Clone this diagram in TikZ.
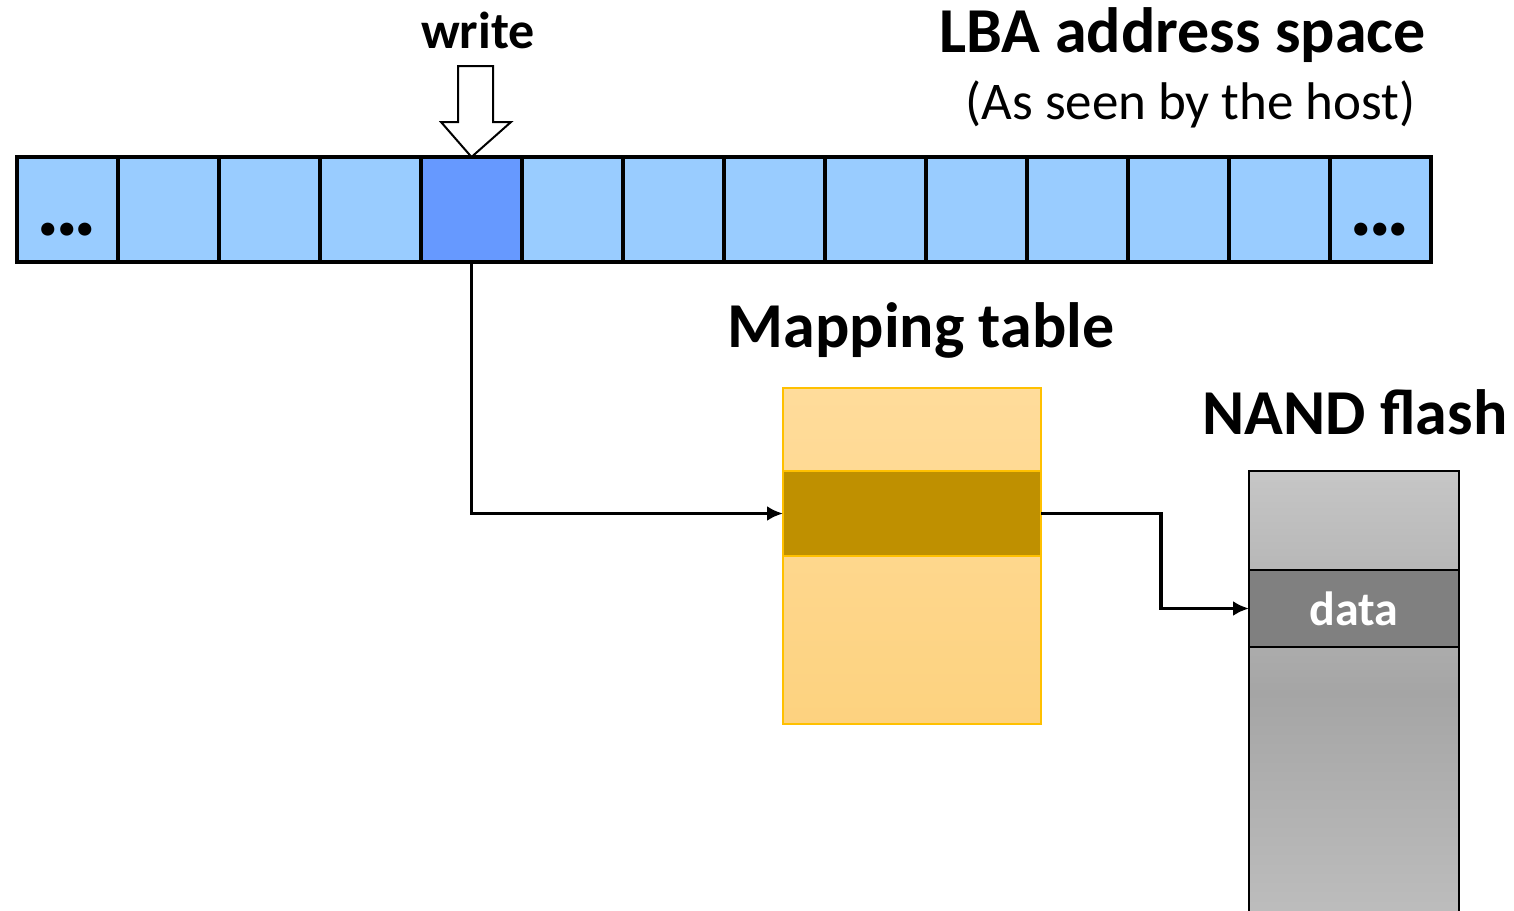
\documentclass[tikz,border=0pt]{standalone}
\usepackage{fontspec}
\setmainfont{Carlito}
\usetikzlibrary{arrows.meta,positioning}

\definecolor{lbacell}{HTML}{99CCFF}
\definecolor{lbahit}{HTML}{6699FF}
\definecolor{maptop}{HTML}{FFDC9B}
\definecolor{mapbot}{HTML}{FDD27F}
\definecolor{mapslot}{HTML}{BF9000}
\definecolor{mapedge}{HTML}{FFC000}
\definecolor{nandtop}{HTML}{C6C6C6}
\definecolor{nandmid}{HTML}{A5A5A5}
\definecolor{nandbot}{HTML}{BDBDBD}
\definecolor{nanddata}{HTML}{808080}

\begin{document}
\begin{tikzpicture}[
    x=0.5pt, y=-0.5pt,
    lbabox/.style={draw, line width=1.8pt, fill=lbacell, minimum width=50.5pt,
        minimum height=52.5pt, inner sep=0pt, outer sep=0pt},
    maptable/.style={draw=mapedge, line width=0.6pt, top color=maptop, bottom color=mapbot,
        minimum width=129pt, minimum height=168pt, inner sep=0pt, outer sep=0pt},
    mapentry/.style={draw=mapedge, line width=0.6pt, fill=mapslot,
        minimum width=129pt, minimum height=42.5pt, inner sep=0pt, outer sep=0pt},
    nandbody/.style={draw, line width=0.8pt, top color=nandtop, bottom color=nandbot, middle color=nandmid,
        minimum width=105pt, minimum height=222pt, inner sep=0pt, outer sep=0pt},
    datablock/.style={draw, line width=0.8pt, fill=nanddata, text=white, font=\bfseries\fontsize{24}{28}\selectfont,
        minimum width=105pt, minimum height=38.5pt, inner sep=0pt, outer sep=0pt},
    title/.style={font=\bfseries\fontsize{32}{38}\selectfont, inner sep=0pt},
    moredots/.style={font=\bfseries\fontsize{44}{50}\selectfont, inner sep=0pt},
    link/.style={line width=1.7pt, -{Latex[length=8pt,width=7.5pt]}}
]

\useasboundingbox (0,0) rectangle (1514,910);

% =========================================================
% LBA address space
% =========================================================

\foreach \i in {1,...,14} {
    \node[lbabox] (c\i) at ({17+101*(\i-1)+50.5},209.5) {};
}
\node[lbabox, fill=lbahit] at (c5) {};

\node[moredots] (dl) at (67,230) {.\kern-2.5pt.\kern-2.5pt.};
\node[moredots] (dr) at (1380,230) {.\kern-2.5pt.\kern-2.5pt.};

\node[title, anchor=east] (lba) at (1426,35) {LBA address space};
\node[font=\fontsize{26.5}{31}\selectfont, inner sep=0pt, anchor=east] (host) at (1416,104) {(As seen by the host)};


% =========================================================
% write
% =========================================================

\node[font=\bfseries\fontsize{26}{30}\selectfont, inner sep=0pt] (wr) at (478,30) {write};

\draw[line width=1pt, fill=white]
    (458,66) -- (493,66) -- (493,122) -- (511,122) -- (c5.north)
    -- (441,122) -- (458,122) -- cycle;


% =========================================================
% Mapping table
% =========================================================

\node[title] (maptitle) at (921,330) {Mapping table};
\node[maptable] (map) at (912,556) {};
\node[mapentry] (slot) at (912,513.5) {};


% =========================================================
% NAND flash
% =========================================================

\node[title] (nandtitle) at (1355,412) {NAND flash};
\node[nandbody] (nand) at (1354,693) {};
\node[datablock] (data) at (1354,608.5) {data};


% =========================================================
% Links
% =========================================================

\draw[link] (c5.south) |- (slot.west);
\draw[link] (slot.east) -- ++(120,0) |- (data.west);

\end{tikzpicture}
\end{document}
